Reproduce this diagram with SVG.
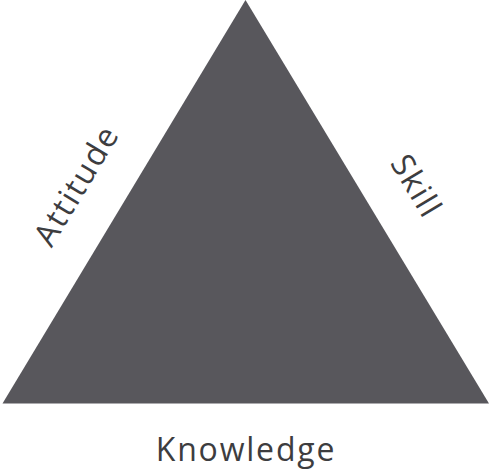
<svg xmlns="http://www.w3.org/2000/svg" width="490" height="469" viewBox="0 0 490 469">
  <style>
    .label { font-family: "Open Sans", "Liberation Sans", sans-serif; font-size: 32px; fill: #3d3d3f; text-anchor: middle; letter-spacing: 1.8px; }
  </style>
  <rect width="490" height="469" fill="#ffffff"/>
  <g id="triangle">
    <polygon points="245.5,0 2.5,403.5 489,403.5" fill="#58575c"/>
  </g>
  <g id="labels">
    <g id="attitude">
      <text class="label" transform="translate(86,191) rotate(-59)">Attitude</text>
    </g>
    <g id="skill">
      <text class="label" transform="translate(407,192) rotate(59)">Skill</text>
    </g>
    <g id="knowledge">
      <text class="label" x="246" y="461">Knowledge</text>
    </g>
  </g>
</svg>
